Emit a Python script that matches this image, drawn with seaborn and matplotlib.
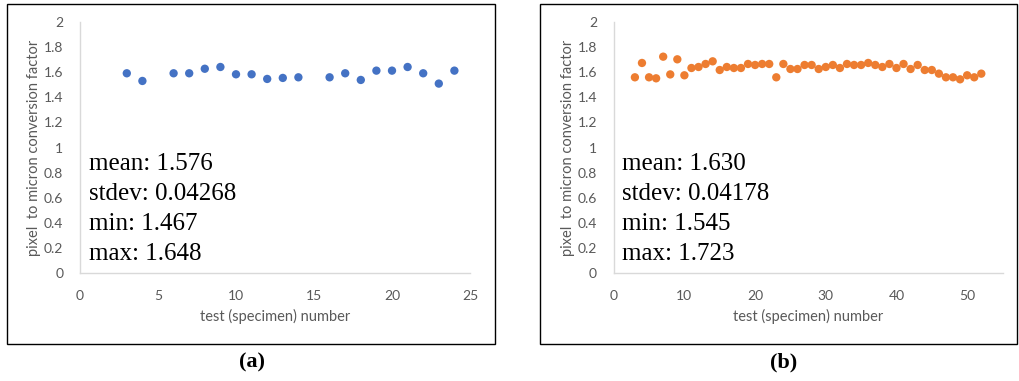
import numpy as np
import pandas as pd
import matplotlib
matplotlib.use("Agg")
import matplotlib.pyplot as plt
import seaborn as sns
from matplotlib.patches import Rectangle

# ---- data ----
spec_a = [3, 4, 6, 7, 8, 9, 10, 11, 12, 13, 14, 16, 17, 18, 19, 20, 21, 22, 23, 24]
factor_a = [1.590, 1.529, 1.590, 1.590, 1.626, 1.640, 1.582, 1.582, 1.545, 1.553,
            1.558, 1.558, 1.590, 1.537, 1.611, 1.611, 1.640, 1.590, 1.508, 1.611]

spec_b = list(range(3, 53))
factor_b = [1.558, 1.672, 1.558, 1.550, 1.722, 1.581, 1.701, 1.574, 1.632, 1.640,
            1.664, 1.685, 1.616, 1.640, 1.632, 1.632, 1.664, 1.656, 1.664, 1.664,
            1.558, 1.664, 1.624, 1.624, 1.656, 1.656, 1.624, 1.640, 1.656, 1.632,
            1.664, 1.656, 1.656, 1.672, 1.656, 1.640, 1.664, 1.632, 1.664, 1.624,
            1.656, 1.616, 1.616, 1.587, 1.558, 1.558, 1.542, 1.574, 1.558, 1.587]

stats_a = ["mean: 1.576", "stdev: 0.04268", "min: 1.467", "max: 1.648"]
stats_b = ["mean: 1.630", "stdev: 0.04178", "min: 1.545", "max: 1.723"]
captions = ["(a)", "(b)"]
y_ticks = [0, 0.2, 0.4, 0.6, 0.8, 1, 1.2, 1.4, 1.6, 1.8, 2]
y_tick_labels = ["0", "0.2", "0.4", "0.6", "0.8", "1", "1.2", "1.4", "1.6", "1.8", "2"]
x_ticks_a = [0, 5, 10, 15, 20, 25]
x_ticks_b = [0, 10, 20, 30, 40, 50]

sns.set_theme(style="white")
plt.rcParams['font.family'] = ['Lato', 'DejaVu Sans']

W, H = 1019, 381
fig = plt.figure(figsize=(W / 100, H / 100), dpi=100)
fig.patch.set_facecolor("white")

grey = "#595959"
spine_col = "#d9d9d9"


def pix_text(x, y, s, **kw):
    fig.text(x / W, 1 - y / H, s, **kw)


def make_panel(rect_axes, xs, ys, color, xlim, xticks):
    l, t, r, b = rect_axes
    ax = fig.add_axes([l / W, 1 - b / H, (r - l) / W, (b - t) / H])
    df = pd.DataFrame({"x": xs, "y": ys})
    sns.scatterplot(data=df, x="x", y="y", ax=ax, color=color, s=36,
                    edgecolor="none", linewidth=0)
    ax.set_xlim(*xlim)
    ax.set_ylim(0, 2)
    ax.set_xticks(xticks)
    ax.set_xticklabels([str(v) for v in xticks])
    ax.set_yticks(y_ticks)
    ax.set_yticklabels(y_tick_labels)
    ax.tick_params(axis="both", length=0, labelsize=10, colors=grey)
    ax.tick_params(axis="y", pad=12)
    ax.tick_params(axis="x", pad=12)
    for s in ["top", "right"]:
        ax.spines[s].set_visible(False)
    for s in ["left", "bottom"]:
        ax.spines[s].set_color(spine_col)
        ax.spines[s].set_linewidth(1.0)
    ax.set_xlabel("test (specimen) number", color=grey, fontsize=10.5, labelpad=5)
    ax.set_ylabel("pixel  to micron conversion factor", color=grey, fontsize=10.5, labelpad=2)
    ax.set_facecolor("white")
    return ax


axa = make_panel((80, 21.7, 470, 273.3), spec_a, factor_a, "#4472C4", (0, 25), x_ticks_a)
axb = make_panel((613.7, 21.7, 1002.5, 273.3), spec_b, factor_b, "#ED7D31", (0, 55), x_ticks_b)

for i, s in enumerate(stats_a):
    pix_text(89, 164 + 30 * i, s, fontsize=18, family="Liberation Serif",
             color="black", va="center", ha="left")
for i, s in enumerate(stats_b):
    pix_text(622, 164 + 30 * i, s, fontsize=18, family="Liberation Serif",
             color="black", va="center", ha="left")

# panel frames
fig.add_artist(Rectangle((7 / W, 1 - 344 / H), (495 - 7) / W, (344 - 4) / H,
                         transform=fig.transFigure, fill=False, edgecolor="black", linewidth=1.0))
fig.add_artist(Rectangle((540 / W, 1 - 344 / H), (1017 - 540) / W, (344 - 4) / H,
                         transform=fig.transFigure, fill=False, edgecolor="black", linewidth=1.0))

# captions
for cx, cap in zip([252, 784], captions):
    pix_text(cx, 362, cap, fontsize=16, family="Liberation Serif", color="black",
             va="center", ha="center", fontweight="bold")

fig.savefig("out.png", dpi=100, facecolor="white")
